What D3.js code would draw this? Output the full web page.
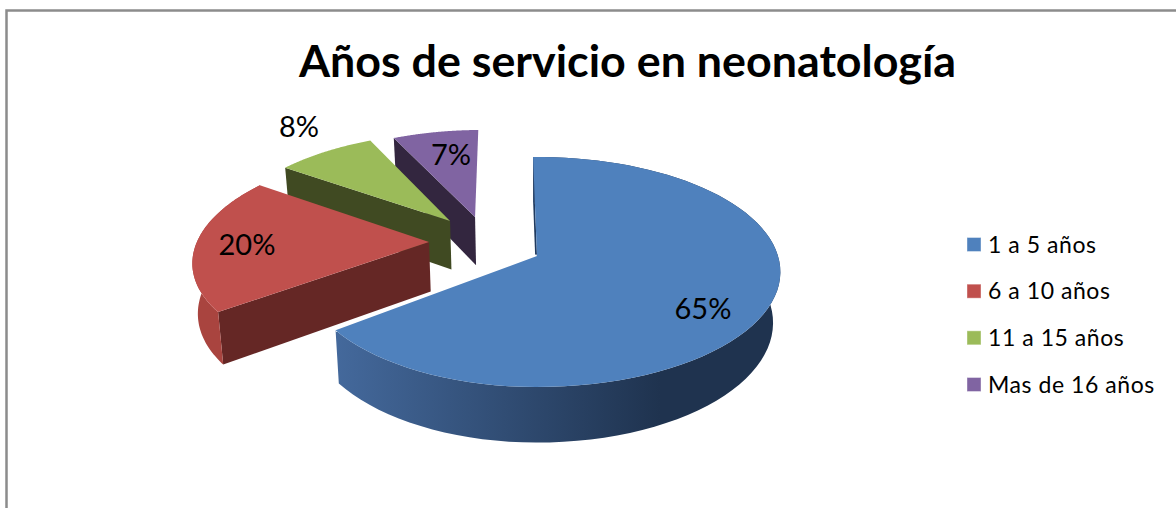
<!DOCTYPE html>
<html><head><meta charset="utf-8">
<script src="https://cdnjs.cloudflare.com/ajax/libs/d3/7.8.5/d3.min.js"></script>
<style>html,body{margin:0;padding:0;background:#fff;overflow:hidden}svg{display:block}text{font-family:Lato,"Open Sans",sans-serif;fill:#000}</style>
</head><body><svg id="c" width="1176" height="508"></svg>
<script>
const chartTitle = "Años de servicio en neonatología";
const categories = ["1 a 5 años","6 a 10 años","11 a 15 años","Mas de 16 años"];
const values = [65,20,8,7];
const topColors = ["#4f81bd","#c0504d","#9bbb59","#8064a2"];
const cutColors = ["#1f3a5f","#652725","#404a22","#33263f"];
const outerColors = ["url(#blueWall)","#a9443f",null,null];

// layout
const cx=537, cy=256, rx=241, ry=112.8, persp=0.139, depth=50;
const explode=[[0,0],[-0.456,0.126],[-0.377,0.324],[-0.27,0.363]];
const radius=[1,0.98,0.97,0.96];
const leftSquash=[0.96,1,1,1];
const labelPos=[[703,319],[247,255],[299,137],[451,165]];

const svg=d3.select("#c");
const defs=svg.append("defs");
const g=defs.append("linearGradient").attr("id","blueWall").attr("gradientUnits","userSpaceOnUse")
  .attr("x1",335).attr("x2",660).attr("y1",0).attr("y2",0);
g.append("stop").attr("offset",0).attr("stop-color","#44699c");
g.append("stop").attr("offset",1).attr("stop-color","#1f334f");

// frame
svg.append("path").attr("d","M6.5,520V10.5H1190").attr("fill","none").attr("stroke","#8c8c8c").attr("stroke-width",2.5);

const rot=-1.1*Math.PI/180;
const pie=d3.pie().sort(null).startAngle(rot).endAngle(2*Math.PI+rot);
const arcs=pie(values);
const color=d3.scaleOrdinal(categories,topColors);

function project(i,a,r,z){
  const rr=r*radius[i];
  let sx=rr*Math.sin(a);
  if(sx<0) sx*=leftSquash[i];
  const X=explode[i][0]+sx, Y=explode[i][1]+rr*Math.cos(a);
  const w=1+persp*Y, k=1-(X<0?0.016:0.03)*z;
  return [cx+k*rx*X/w, cy-ry*Y/w+z*depth/(1+0.1*Y)];
}
const line=d3.line();
const angles=(d)=>d3.range(0,81).map(t=>d.startAngle+(d.endAngle-d.startAngle)*t/80);

// back to front: purple, green, red, blue
[3,2,1,0].forEach(i=>{
  const d=arcs[i], A=angles(d);
  const G=svg.append("g");
  const wall=(a)=>[project(i,a,0,0),project(i,a,1,0),project(i,a,1,1),project(i,a,0,1)];
  G.append("path").attr("d",line(wall(d.startAngle))+"Z").attr("fill",cutColors[i]);
  const upper=A.map(a=>project(i,a,1,0)), lower=A.slice().reverse().map(a=>project(i,a,1,1));
  if(outerColors[i]) G.append("path").attr("d",line(upper.concat(lower))+"Z").attr("fill",outerColors[i]);
  if(i===0){
    G.append("path").attr("d",line([project(i,d.endAngle,0,0),project(i,d.endAngle,1,0)]))
      .attr("stroke","#fff").attr("stroke-width",3.5).attr("fill","none");
  }
  G.append("path").attr("d",line([project(i,d.startAngle,0,0)].concat(upper))+"Z").attr("fill",color(categories[i]));
});

// title
svg.append("text").attr("x",627.5).attr("y",77).attr("text-anchor","middle")
  .attr("font-size",44.8).attr("font-weight",700).text(chartTitle);

// data labels
svg.selectAll(".pct").data(values).join("text").attr("class","pct")
  .attr("x",(d,i)=>labelPos[i][0]).attr("y",(d,i)=>labelPos[i][1])
  .attr("text-anchor","middle").attr("font-size",29).text(d=>d+"%");

// legend
const ly=d3.scalePoint(categories,[245,385]);
const lg=svg.selectAll(".leg").data(categories).join("g").attr("class","leg").attr("transform",d=>`translate(967,${ly(d)})`);
lg.append("rect").attr("x",0).attr("y",-7.5).attr("width",14).attr("height",14).attr("fill",d=>color(d)).attr("stroke","#fff").attr("stroke-opacity",.4);
lg.append("text").attr("x",21).attr("y",7.5).attr("font-size",23).attr("letter-spacing",0.55).text(d=>d);
</script></body></html>
